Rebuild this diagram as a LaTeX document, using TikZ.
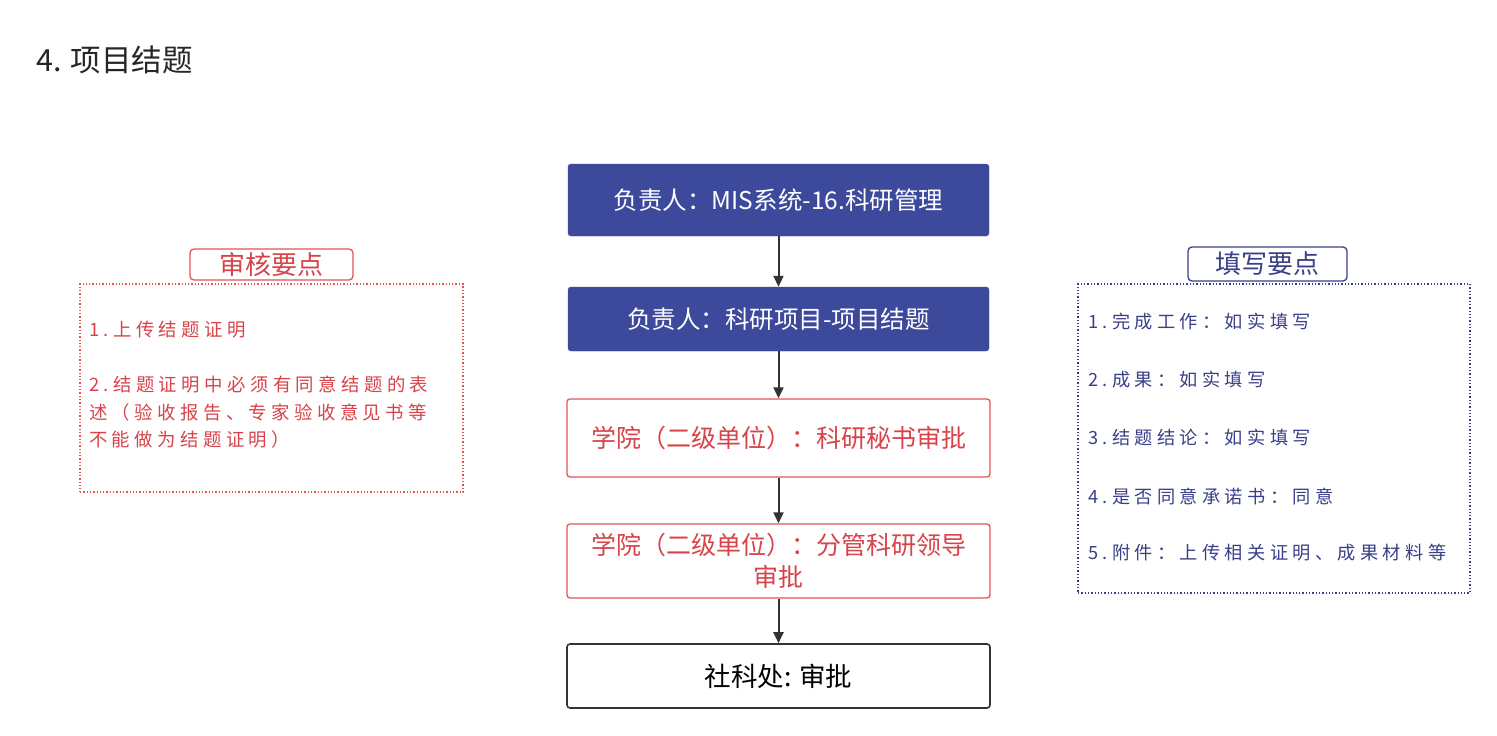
\documentclass[tikz,border=0pt]{standalone}
\usepackage{fontspec}
\setmainfont{Noto Sans CJK SC}
\newfontfamily\cjk{Noto Sans CJK SC}
\newfontfamily\cjkwide[LetterSpace=24]{Noto Sans CJK SC}
\usetikzlibrary{arrows.meta}
\definecolor{bluefill}{HTML}{3D4A9C}
\definecolor{redline}{HTML}{E05555}
\definecolor{redtext}{HTML}{D8434A}
\definecolor{bluetext}{HTML}{3A4088}
\definecolor{arrowgray}{HTML}{333333}
\tikzset{
  x=1pt, y=-1pt,
  bluebox/.style={draw=bluefill, fill=bluefill, rounded corners=3pt, text=white, font=\cjk\fontsize{24.5}{28}\selectfont, minimum width=421pt, inner sep=0pt, align=center},
  redbox/.style={draw=redline, line width=1.3pt, fill=white, rounded corners=3pt, text=redtext, font=\cjk\fontsize{25}{32}\selectfont, minimum width=423pt, inner sep=0pt, align=center},
  blackbox/.style={draw=arrowgray, line width=1.6pt, fill=white, rounded corners=3pt, text=black, font=\cjk\fontsize{26.5}{30}\selectfont, minimum width=423pt, inner sep=0pt, align=center},
  flow/.style={draw=arrowgray, line width=2pt, -{Triangle[length=11pt,width=10pt]}},
  headbox/.style={rounded corners=4pt, line width=1.3pt, inner sep=0pt, font=\cjk\fontsize{26}{30}\selectfont},
  notebox/.style={dotted, line width=1.3pt},
  lefttext/.style={anchor=west, inner sep=0pt, text=redtext, font=\cjkwide\fontsize{18.4}{27.5}\selectfont, align=left},
  righttext/.style={anchor=west, inner sep=0pt, text=bluetext, font=\cjkwide\fontsize{18.2}{21}\selectfont, align=left},
}
\begin{document}
\begin{tikzpicture}
\useasboundingbox[fill=white] (0,0) rectangle (1497,736);

\node[anchor=west, inner sep=0pt, font=\cjk\fontsize{30.5}{34}\selectfont, text=black!85] (title) at (36,60) {4. 项目结题};

\node[bluebox, minimum height=72pt] (b1) at (778.5,200) {负责人：MIS系统-16.科研管理};
\node[bluebox, minimum height=64pt] (b2) at (778.5,319) {负责人：科研项目-项目结题};
\node[redbox, minimum height=78pt] (b3) at (778.5,438) {学院（二级单位）：科研秘书审批};
\node[redbox, minimum height=74pt] (b4) at (778.5,561) {学院（二级单位）：分管科研领导\\审批};
\node[blackbox, minimum height=64pt] (b5) at (778.5,676) {社科处: 审批};

\draw[flow] (b1) -- (b2);
\draw[flow] (b2) -- (b3);
\draw[flow] (b3) -- (b4);
\draw[flow] (b4) -- (b5);

% left notes
\node[draw=redline, notebox, minimum width=383pt, minimum height=208pt, inner sep=0pt] (lbox) at (271.5,388) {};
\node[draw=redline, fill=white, headbox, text=redtext, minimum width=163pt, minimum height=31pt] (lhead) at (271.5,264.5) {审核要点};
\node[lefttext] (l1) at (89,330) {1.上传结题证明};
\node[lefttext, anchor=north west] (l2) at (89,376) {2.结题证明中必须有同意结题的表\\述（验收报告、专家验收意见书等\\不能做为结题证明）};

% right notes
\node[draw=bluetext, notebox, minimum width=392pt, minimum height=309pt, inner sep=0pt] (rbox) at (1274,438.5) {};
\node[draw=bluetext, fill=white, headbox, text=bluetext, minimum width=159pt, minimum height=34pt] (rhead) at (1267.5,264) {填写要点};
\node[righttext] (r1) at (1088,322) {1.完成工作：如实填写};
\node[righttext] (r2) at (1088,380) {2.成果：如实填写};
\node[righttext] (r3) at (1088,438) {3.结题结论：如实填写};
\node[righttext] (r4) at (1088,497) {4.是否同意承诺书：同意};
\node[righttext] (r5) at (1088,553) {5.附件：上传相关证明、成果材料等};
\end{tikzpicture}
\end{document}
